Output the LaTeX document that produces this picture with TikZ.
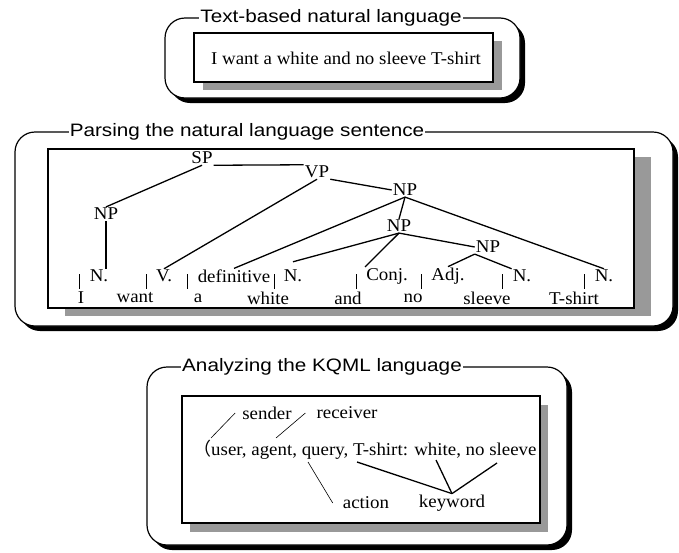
\documentclass[tikz,border=0pt]{standalone}
\usepackage{fontspec}
\setmainfont[FakeStretch=1.05]{Liberation Serif}
\newfontfamily\titlefont[FakeStretch=1.15]{Liberation Sans}
\newfontfamily\cjk{Noto Sans CJK SC}
\definecolor{shadegray}{gray}{0.6}

\begin{document}
\begin{tikzpicture}[x=1pt,y=-1pt,
    outer/.style={draw=black,fill=white,line width=1.2pt,rounded corners=20pt},
    inner/.style={draw=black,fill=white,line width=1.4pt},
    ttl/.style={fill=white,inner xsep=1pt,inner ysep=0pt,font=\titlefont\fontsize{18}{20}\selectfont},
    txt/.style={inner sep=1pt,font=\fontsize{18}{20}\selectfont},
    treeline/.style={line width=1.3pt},
    tickline/.style={line width=0.6pt}]
    \useasboundingbox (0,0) rectangle (679,552);

    \fill[rounded corners=20pt] (170,23) rectangle (525,103);
    \draw[outer] (165,18) rectangle (520,98);
    \fill[shadegray] (203,41) rectangle (502,90);
    \draw[inner] (194,33) rectangle (493,82);
    \node[ttl] (title1) at (331,18) {Text-based natural language};
    \node[txt] (sentence) at (346,58) {I want a white and no sleeve T-shirt};

    \fill[rounded corners=20pt] (20,137) rectangle (678,331);
    \draw[outer] (15,132) rectangle (673,326);
    \fill[shadegray] (65,157) rectangle (651,316);
    \draw[inner] (48,149) rectangle (634,308);
    \node[ttl] (title2) at (247,132) {Parsing the natural language sentence};

    \node[txt] (sp) at (202,158) {SP};
    \node[txt] (vp) at (317,172) {VP};
    \node[txt] (npa) at (106,214) {NP};
    \node[txt] (npb) at (405,190) {NP};
    \node[txt] (npc) at (399,226) {NP};
    \node[txt] (npd) at (488,247) {NP};

    \node[txt] (nI) at (99,276) {N.};
    \node[txt] (vWant) at (164,276) {V.};
    \node[txt] (defA) at (234,276) {definitive};
    \node[txt] (nWhite) at (293,276) {N.};
    \node[txt] (conj) at (387,276) {Conj.};
    \node[txt] (adj) at (448,276) {Adj.};
    \node[txt] (nSleeve) at (522,276) {N.};
    \node[txt] (nShirt) at (604,276) {N.};

    \node[txt] (wI) at (81,298) {I};
    \node[txt] (wWant) at (135,298) {want};
    \node[txt] (wA) at (198,298) {a};
    \node[txt] (wWhite) at (268,298) {white};
    \node[txt] (wAnd) at (348,298) {and};
    \node[txt] (wNo) at (413,298) {no};
    \node[txt] (wSleeve) at (487,298) {sleeve};
    \node[txt] (wShirt) at (574,298) {T-shirt};

    \draw[treeline] (sp.south) -- (npa.north);
    \draw[treeline] (sp.south east) -- (vp.north west);
    \draw[treeline] (vp.south east) -- (npb.west);
    \draw[treeline] (vp.south) -- (vWant.north);
    \draw[treeline] (npa.south) -- (npa.south |- nI.north);
    \draw[treeline] (npb.south) -- (npc.north);
    \draw[treeline] (npb.south) -- (defA.north);
    \draw[treeline] (npb.south) -- (nShirt.north);
    \draw[treeline] (npc.south) -- ([yshift=7pt]nWhite.north);
    \draw[treeline] (npc.south) -- (conj.north west);
    \draw[treeline] (npc.south) -- (npd.west);
    \draw[treeline] (npd.south west) -- (adj.north);
    \draw[treeline] (npd.south west) -- (nSleeve.north west);

    \draw[tickline] ([xshift=-9pt,yshift=2pt]nI.west) -- ++(0,15);
    \draw[tickline] ([xshift=-9pt,yshift=2pt]vWant.west) -- ++(0,15);
    \draw[tickline] ([xshift=-9pt,yshift=2pt]defA.west) -- ++(0,15);
    \draw[tickline] ([xshift=-8pt,yshift=2pt]nWhite.west) -- ++(0,15);
    \draw[tickline] ([xshift=-9pt,yshift=2pt]conj.west) -- ++(0,15);
    \draw[tickline] ([xshift=-9pt,yshift=2pt]adj.west) -- ++(0,15);
    \draw[tickline] ([xshift=-9pt,yshift=2pt]nSleeve.west) -- ++(0,15);
    \draw[tickline] ([xshift=-9pt,yshift=2pt]nShirt.west) -- ++(0,15);

    \fill[rounded corners=20pt] (152,372) rectangle (572,550);
    \draw[outer] (147,367) rectangle (567,545);
    \fill[shadegray] (190,405) rectangle (548,532);
    \draw[inner] (182,396) rectangle (540,523);
    \node[ttl] (title3) at (322,367) {Analyzing the KQML language};

    \node[txt,anchor=west] (kqml) at (192,450) {{\cjk （}user, agent, query, T-shirt: white, no sleeve};
    \node[txt] (sender) at (267,413) {sender};
    \node[txt] (receiver) at (347,413) {receiver};
    \node[txt] (action) at (366,503) {action};
    \node[txt] (keyword) at (452,503) {keyword};
    \coordinate (usr) at (211,438);
    \coordinate (agt) at (276,438);
    \coordinate (qry) at (308,462);
    \coordinate (tsh) at (357,462);
    \coordinate (wht) at (436,460);
    \coordinate (slv) at (497,463);

    \draw[tickline] ([xshift=-6pt]sender.west) -- (usr);
    \draw[tickline] ([xshift=-10pt]receiver.west) -- (agt);
    \draw[tickline] (qry) -- ([xshift=-9pt]action.west);
    \draw[treeline] (tsh) -- (keyword.north);
    \draw[treeline] (wht) -- (keyword.north);
    \draw[treeline] (slv) -- (keyword.north);

\end{tikzpicture}
\end{document}
